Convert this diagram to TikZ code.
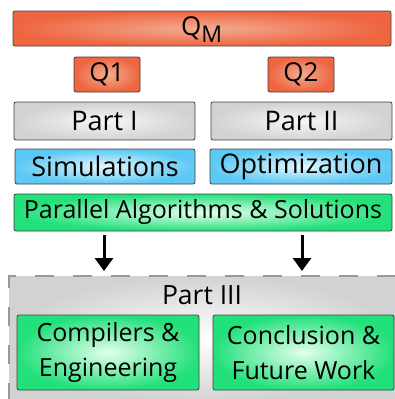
\documentclass[tikz,border=0pt]{standalone}
\usepackage{fontspec}
\setmainfont{Open Sans}
\usetikzlibrary{arrows.meta}
\definecolor{redE}{HTML}{EE6540}
\definecolor{redC}{HTML}{F2AC92}
\definecolor{grayE}{HTML}{D2D2D2}
\definecolor{grayC}{HTML}{F7F7F7}
\definecolor{blueE}{HTML}{5CC8F4}
\definecolor{blueC}{HTML}{E2F6FE}
\definecolor{greenE}{HTML}{22E07A}
\definecolor{greenC}{HTML}{E4FFEC}
\definecolor{frame}{HTML}{404040}
\tikzset{
  box/.style={draw=frame, line width=0.8pt, rounded corners=2pt},
  redbox/.style={box, inner color=redC, outer color=redE},
  graybox/.style={box, inner color=grayC, outer color=grayE},
  bluebox/.style={box, inner color=blueC, outer color=blueE},
  greenbox/.style={box, inner color=greenC, outer color=greenE},
  lbl/.style={font=\fontsize{27}{32}\selectfont, text=black},
  flow/.style={line width=3pt, -{Triangle[width=18pt,length=13pt]}},
}
\begin{document}
\begin{tikzpicture}[x=1pt,y=-1pt]
\useasboundingbox (0,0) rectangle (395,399);
% outer container of Part III
\shade[inner color=white, outer color=grayE] (9,276) rectangle (398,402);
\draw[gray!80, line width=1.2pt, dash pattern=on 19pt off 19pt] (9,402) -- (9,276) -- (398,276);
% top rows
\draw[redbox] (13,11) rectangle node[lbl, font=\fontsize{26}{30}\selectfont, yshift=-1pt] (qm) {Q\textsubscript{\fontsize{23}{26}\selectfont M}} (391,46);
\draw[redbox] (74,57) rectangle node[lbl, font=\fontsize{26}{30}\selectfont] (q1) {Q1} (140,92);
\draw[redbox] (268,57) rectangle node[lbl, font=\fontsize{26}{30}\selectfont] (q2) {Q2} (334,92);
\draw[graybox] (14,102) rectangle node[lbl] (p1) {Part I} (195,140);
\draw[graybox] (211,102) rectangle node[lbl] (p2) {Part II} (392,140);
\draw[bluebox] (15,149) rectangle node[lbl] (sim) {Simulations} (195,184);
\draw[bluebox] (210,149) rectangle node[lbl] (opt) {Optimization} (392,184);
\draw[greenbox] (14,194) rectangle node[lbl, font=\fontsize{25}{30}\selectfont] (par) {Parallel Algorithms \& Solutions} (392,231);
% Part III contents
\node[lbl, font=\fontsize{26.5}{30}\selectfont] (p3) at (202,295) {Part III};
\draw[greenbox] (17,315) rectangle node[lbl, align=center, font=\fontsize{25}{35}\selectfont] (comp) {Compilers \&\\Engineering} (199,390);
\draw[greenbox] (213,315) rectangle node[lbl, align=center, font=\fontsize{25}{35}\selectfont] (conc) {Conclusion \&\\Future Work} (394,390);
% arrows into Part III
\coordinate (a1s) at (104,235);
\coordinate (a1e) at (104,271);
\coordinate (a2s) at (302,235);
\coordinate (a2e) at (302,271);
\draw[flow] (a1s) -- (a1e);
\draw[flow] (a2s) -- (a2e);
\end{tikzpicture}
\end{document}
